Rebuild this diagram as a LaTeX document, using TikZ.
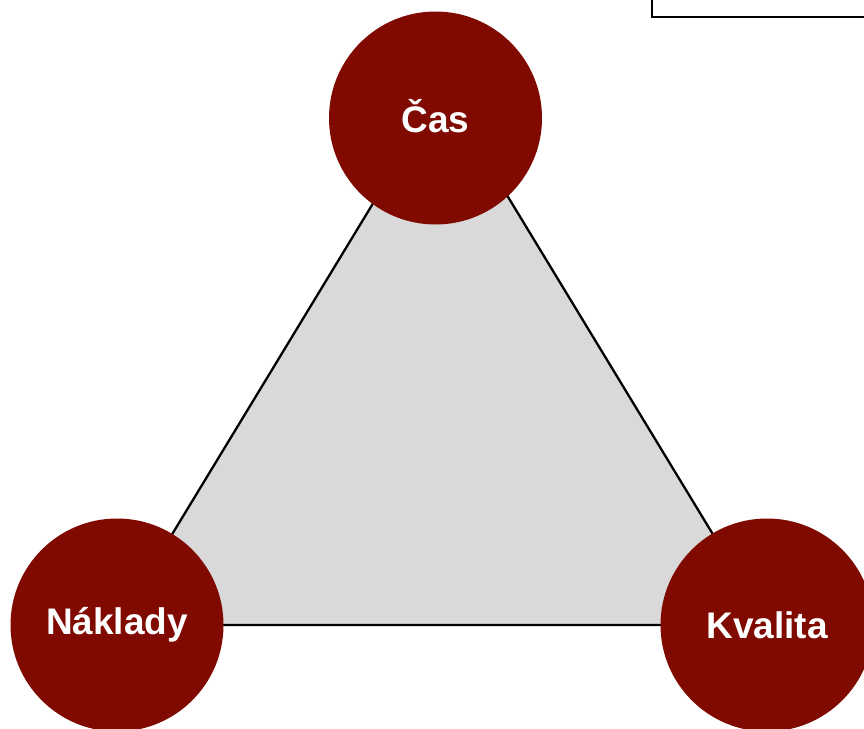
\documentclass[tikz,border=0pt]{standalone}
\usepackage{fontspec}
\setmainfont{Liberation Sans}
\definecolor{ringred}{RGB}{128,10,0}
\definecolor{trifill}{RGB}{217,217,217}
\begin{document}
\begin{tikzpicture}[x=1pt,y=-1pt,
  corner/.style={circle,fill=ringred,draw=none,minimum size=213pt,inner sep=0pt,
    text=white,font=\fontsize{37}{42}\selectfont\bfseries},
  edge/.style={draw=black,line width=2.3pt,line join=miter},
  frame/.style={draw=black,line width=2.3pt,fill=white}]
  \useasboundingbox (0,0) rectangle (864,728);

  % box partly outside the top right corner
  \draw[frame] (652,-10) rectangle (880,17);

  % corners of the triangle
  \coordinate (apex) at (442.5,89);
  \coordinate (left) at (117,625);
  \coordinate (right) at (768,625);
  \path[edge,fill=trifill] (apex) -- (left) -- (right) -- cycle;

  % the three constraints
  \node[corner] (cas) at (435.5,118) {\raisebox{4pt}{Čas}};
  \node[corner] (naklady) at (117,625) {Náklady};
  \node[corner] (kvalita) at (767,625) {Kvalita};
\end{tikzpicture}
\end{document}
